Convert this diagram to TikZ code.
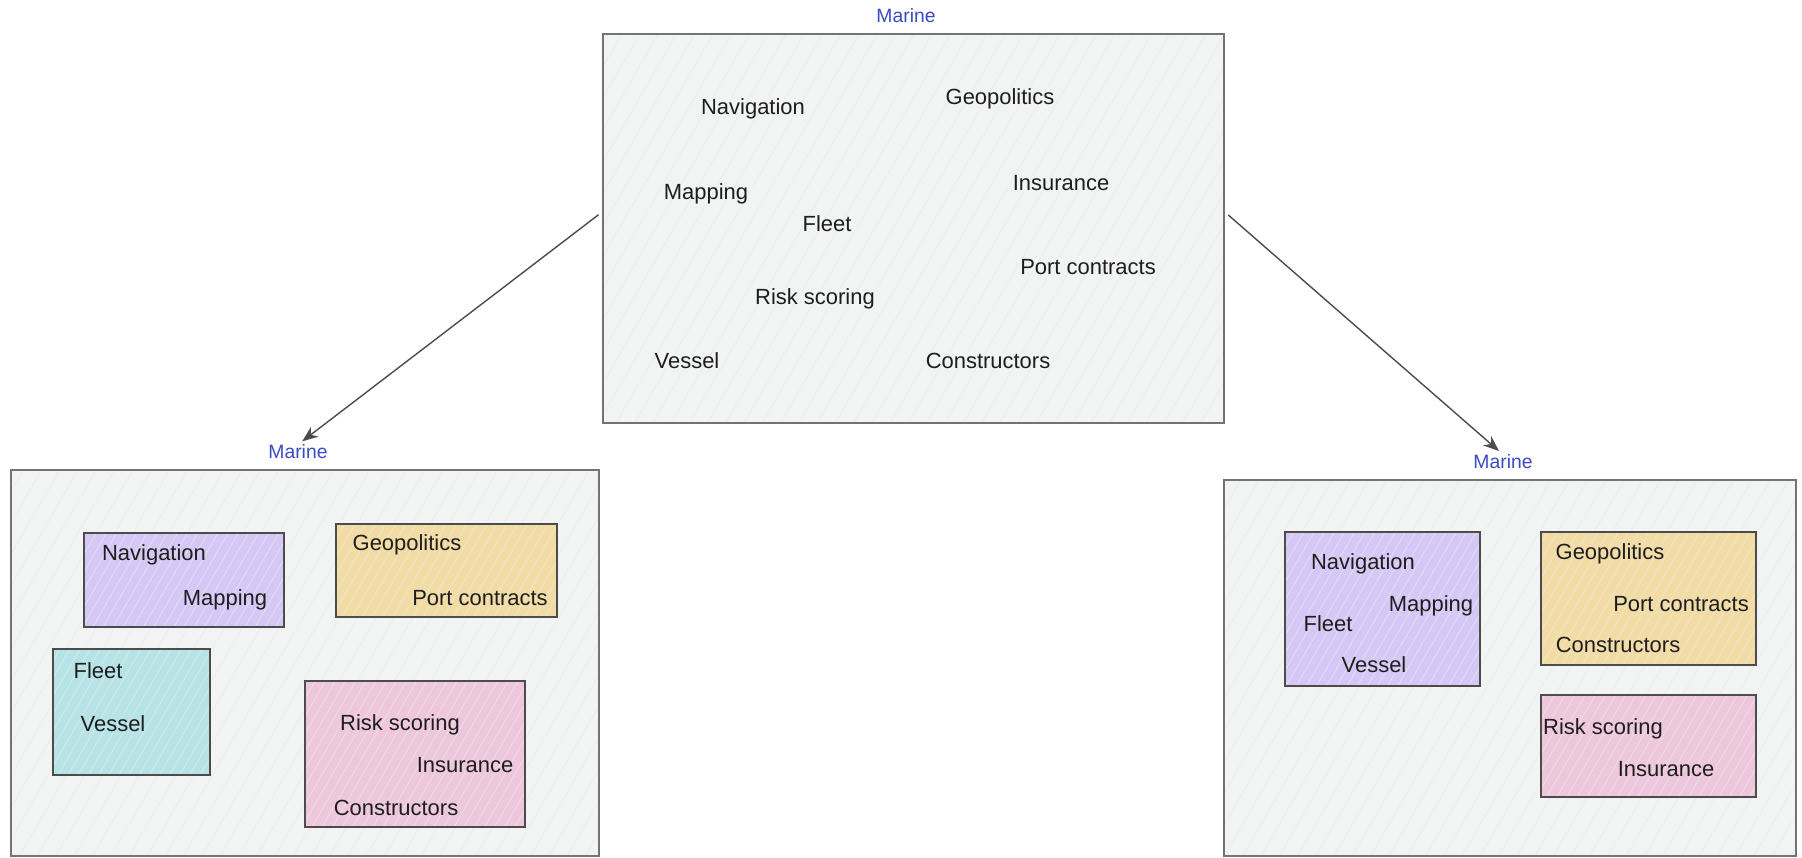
\documentclass[tikz,border=0pt]{standalone}
\usepackage{fontspec}
\setmainfont{Liberation Sans}
\usetikzlibrary{fit,arrows.meta,patterns.meta}

\definecolor{framefill}{HTML}{F2F3F3}
\definecolor{navfill}{HTML}{D5C8F6}
\definecolor{geofill}{HTML}{F3DCA4}
\definecolor{fleetfill}{HTML}{B5E3E6}
\definecolor{riskfill}{HTML}{EFC7DC}
\definecolor{inkblack}{HTML}{1E1E1E}
\definecolor{marineblue}{HTML}{3A4BC2}

\tikzset{
  frame/.style={preaction={fill=framefill}, draw=black!55, line width=0.8pt, inner sep=0pt,
    pattern={Lines[angle=60,distance=9pt,line width=0.3pt]}, pattern color=black!8},
  group/.style={preaction={fill=#1}, draw=black!70, line width=0.8pt, inner sep=0pt,
    pattern={Lines[angle=60,distance=5pt,line width=0.3pt]}, pattern color=white!55!black!20},
  word/.style={font=\fontsize{12.5}{15}\selectfont, text=inkblack, inner sep=0pt},
  title/.style={font=\fontsize{11}{13}\selectfont, text=marineblue, inner sep=0pt},
  arr/.style={-{Stealth[length=9pt,width=7pt]}, draw=black!70, line width=0.8pt}
}

\begin{document}
\begin{tikzpicture}[x=0.02cm, y=-0.02cm]
  \useasboundingbox (0,0) rectangle (1802,858);

  % before
  \node[title] (tmarine) at (906,16) {Marine};
  \node[frame, fit={(603,34) (1224,423)}] (topbox) {};
  \node[word] (tnav) at (753,109) {Navigation};
  \node[word] (tgeo) at (1000,99) {Geopolitics};
  \node[word] (tmap) at (706,194) {Mapping};
  \node[word] (tins) at (1061,183) {Insurance};
  \node[word] (tfleet) at (827,224) {Fleet};
  \node[word] (tport) at (1088,267) {Port contracts};
  \node[word] (trisk) at (815,299) {Risk scoring};
  \node[word] (tvessel) at (687,361) {Vessel};
  \node[word] (tcons) at (988,361) {Constructors};

  % left split
  \node[title] (lmarine) at (298,452) {Marine};
  \node[frame, fit={(11,470) (599,856)}] (leftbox) {};
  \node[group=navfill, fit={(84,533) (284,627)}] (lnavbox) {};
  \node[group=geofill, fit={(336,524) (557,617)}] (lgeobox) {};
  \node[group=fleetfill, fit={(53,649) (210,775)}] (lfleetbox) {};
  \node[group=riskfill, fit={(305,681) (525,827)}] (lriskbox) {};
  \node[word] (lnav) at (154,555) {Navigation};
  \node[word] (lmap) at (225,600) {Mapping};
  \node[word] (lgeo) at (407,545) {Geopolitics};
  \node[word] (lport) at (480,598) {Port contracts};
  \node[word] (lfleet) at (98,671) {Fleet};
  \node[word] (lvessel) at (113,724) {Vessel};
  \node[word] (lrisk) at (400,725) {Risk scoring};
  \node[word] (lins) at (465,765) {Insurance};
  \node[word] (lcons) at (396,808) {Constructors};

  % right split
  \node[title] (rmarine) at (1503,462) {Marine};
  \node[frame, fit={(1224,480) (1796,856)}] (rightbox) {};
  \node[group=navfill, fit={(1285,532) (1480,686)}] (rnavbox) {};
  \node[group=geofill, fit={(1541,532) (1756,665)}] (rgeobox) {};
  \node[group=riskfill, fit={(1541,695) (1756,797)}] (rriskbox) {};
  \node[word] (rnav) at (1363,564) {Navigation};
  \node[word] (rmap) at (1431,606) {Mapping};
  \node[word] (rfleet) at (1328,624) {Fleet};
  \node[word] (rvessel) at (1374,665) {Vessel};
  \node[word] (rgeo) at (1610,554) {Geopolitics};
  \node[word] (rport) at (1681,604) {Port contracts};
  \node[word] (rcons) at (1618,645) {Constructors};
  \node[word] (rrisk) at (1603,729) {Risk scoring};
  \node[word] (rins) at (1666,769) {Insurance};

  \draw[arr, shorten <=3pt, shorten >=3pt] ([yshift=0.34cm]topbox.west) -- (lmarine.north);
  \draw[arr, shorten <=3pt, shorten >=3pt] ([yshift=0.34cm]topbox.east) -- (rmarine.north);
\end{tikzpicture}
\end{document}
